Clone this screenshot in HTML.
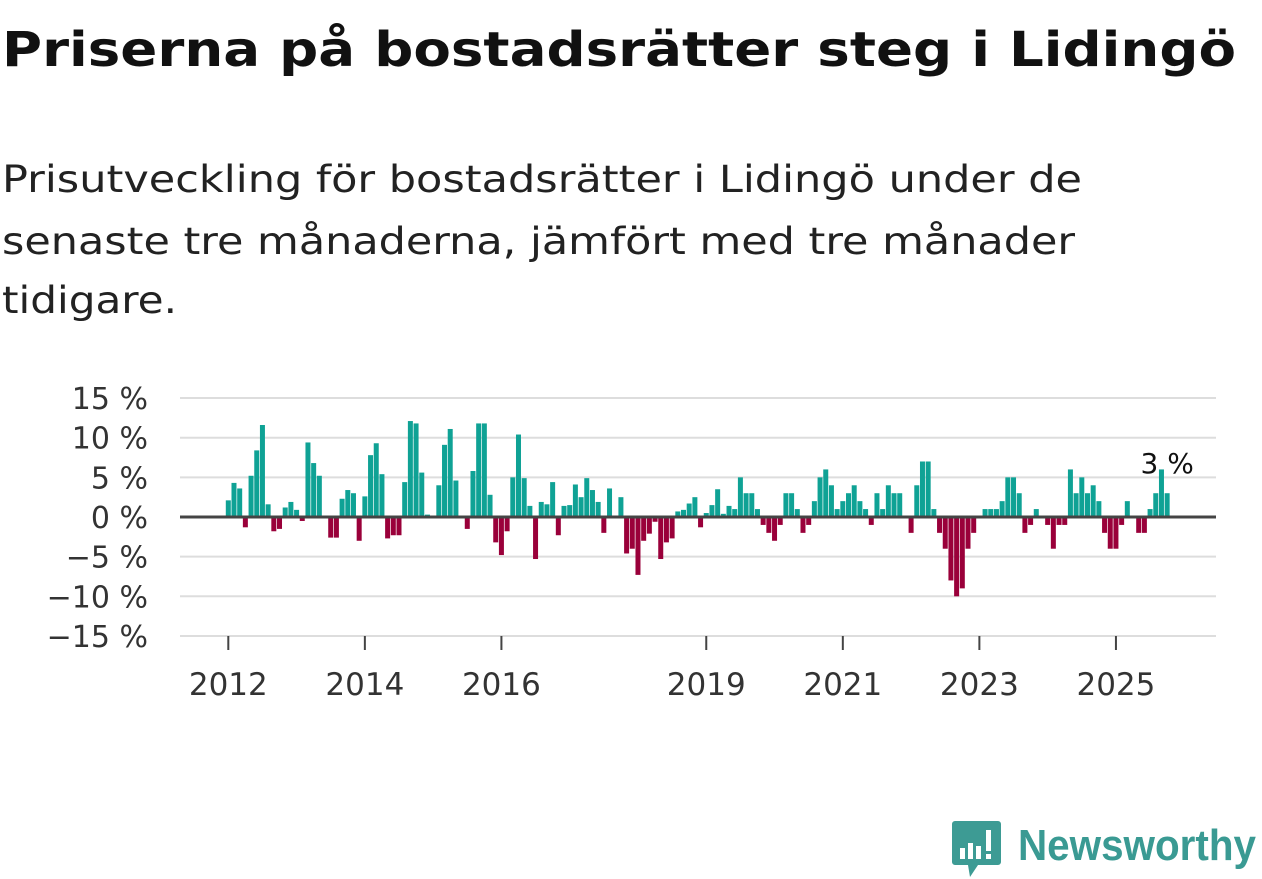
<!DOCTYPE html>
<html><head><meta charset="utf-8"><style>
html,body{margin:0;padding:0;background:#fff;width:1262px;height:879px;overflow:hidden}
svg{display:block}
</style></head><body>
<svg id="chart" width="1262" height="879" xmlns="http://www.w3.org/2000/svg">
<text x="2" y="66" font-family="DejaVu Sans, sans-serif" font-weight="bold" font-size="48" fill="#111" textLength="1234" lengthAdjust="spacingAndGlyphs">Priserna på bostadsrätter steg i Lidingö</text>
<g font-family="DejaVu Sans, sans-serif" font-size="37" fill="#222">
<text x="2" y="192" textLength="1080" lengthAdjust="spacingAndGlyphs">Prisutveckling för bostadsrätter i Lidingö under de</text>
<text x="2" y="254" textLength="1073" lengthAdjust="spacingAndGlyphs">senaste tre månaderna, jämfört med tre månader</text>
<text x="2" y="313" textLength="175" lengthAdjust="spacingAndGlyphs">tidigare.</text>
</g>
<g id="grid"></g>
<g id="yticks"></g>
<g id="xticks"></g>
<g id="bars"></g>
<line id="zero" stroke="#444" stroke-width="3"/>
<g id="annot"></g>
<g>
<path d="M955 821 h43 a3 3 0 0 1 3 3 v38 a3 3 0 0 1 -3 3 h-20 l-8 12 l-2 -12 h-13 a3 3 0 0 1 -3 -3 v-38 a3 3 0 0 1 3 -3z" fill="#3d9b94"/>
<rect x="960" y="848" width="5" height="11" fill="#fff"/>
<rect x="968" y="843" width="5" height="16" fill="#fff"/>
<rect x="976" y="846" width="5" height="13" fill="#fff"/>
<rect x="986" y="830" width="5" height="21" fill="#fff"/>
<rect x="986" y="854" width="5" height="5" fill="#fff"/>
<text x="1018" y="860" font-family="Liberation Sans, sans-serif" font-weight="bold" font-size="44" fill="#3a9a93" textLength="238" lengthAdjust="spacingAndGlyphs">Newsworthy</text>
</g>
</svg>
<script>
const values = [2.1,4.3,3.6,-1.3,5.2,8.4,11.6,1.6,-1.8,-1.5,1.2,1.9,
0.9,-0.5,9.4,6.8,5.2,0,-2.6,-2.6,2.3,3.4,3.0,-3.0,
2.6,7.8,9.3,5.4,-2.7,-2.3,-2.3,4.4,12.1,11.8,5.6,0.3,
0,4.0,9.1,11.1,4.6,0,-1.5,5.8,11.8,11.8,2.8,-3.2,
-4.8,-1.8,5.0,10.4,4.9,1.4,-5.3,1.9,1.6,4.4,-2.3,1.4,
1.5,4.1,2.5,4.9,3.4,1.9,-2.0,3.6,0,2.5,-4.6,-4.0,
-7.3,-3.0,-2.1,-0.6,-5.3,-3.2,-2.7,0.7,0.9,1.7,2.5,-1.3,
0.5,1.5,3.5,0.4,1.4,1.0,5.0,3.0,3.0,1.0,-1.0,-2.0,
-3.0,-1.0,3.0,3.0,1.0,-2.0,-1.0,2.0,5.0,6.0,4.0,1.0,
2.0,3.0,4.0,2.0,1.0,-1.0,3.0,1.0,4.0,3.0,3.0,0,
-2.0,4.0,7.0,7.0,1.0,-2.0,-4.0,-8.0,-10.0,-9.0,-4.0,-2.0,
0,1.0,1.0,1.0,2.0,5.0,5.0,3.0,-2.0,-1.0,1.0,0,
-1.0,-4.0,-1.0,-1.0,6.0,3.0,5.0,3.0,4.0,2.0,-2.0,-4.0,
-4.0,-1.0,2.0,0,-2.0,-2.0,1.0,3.0,6.0,3.0];
const startYear = 2012;
const yTicks = [15,10,5,0,-5,-10,-15];
const yTickLabels = ["15 %","10 %","5 %","0 %","\u22125 %","\u221210 %","\u221215 %"];
const xTickYears = [2012,2014,2016,2019,2021,2023,2025];
const lastLabel = "3 %";

const NS="http://www.w3.org/2000/svg";
const L=180,R=1216;
function y(v){return 517 - v*7.93;}
function x(i){return 228.3 + i*5.69;}
function xYear(yr){return x((yr-startYear)*12);}
function el(t,a,p){const e=document.createElementNS(NS,t);for(const k in a)e.setAttribute(k,a[k]);p.appendChild(e);return e;}
const grid=document.getElementById('grid'),yt=document.getElementById('yticks'),xt=document.getElementById('xticks'),bars=document.getElementById('bars');
yTicks.forEach((v,k)=>{
  const g=el('line',{x1:L,x2:R,y1:y(v),y2:y(v),stroke:'#ddd','stroke-width':2},grid);
  
  
  const t=el('text',{x:148,y:y(v)+11,'text-anchor':'end','font-family':'DejaVu Sans, sans-serif','font-size':30,fill:'#333'},yt);
  t.textContent=yTickLabels[k];
  
  
});
xTickYears.forEach(yr=>{
  const xx=xYear(yr);
  const tk=el('line',{x1:xx,x2:xx,y1:636,y2:650,stroke:'#444','stroke-width':2},xt);
  
  
  const t=el('text',{x:xx,y:695,'text-anchor':'middle','font-family':'DejaVu Sans, sans-serif','font-size':31,fill:'#333'},xt);
  t.textContent=yr;
  
  
});
values.forEach((v,i)=>{
  const top=Math.min(y(v),y(0)),h=Math.abs(y(v)-y(0));
  const r=el('rect',{x:x(i)-2.5,y:top,width:5,height:h,fill:v>=0?'#0fa295':'#9a003a'},bars);
  
  
});
const z=document.getElementById('zero');
z.setAttribute('x1',L);z.setAttribute('x2',R);z.setAttribute('y1',y(0));z.setAttribute('y2',y(0));
const li=values.length-1;
const an=document.getElementById('annot');
const lt=el('text',{x:x(li),y:y(Math.max(values[li],0))-20,'text-anchor':'middle','font-family':'DejaVu Sans, sans-serif','font-size':28,fill:'#111',stroke:'#fff','stroke-width':5,'paint-order':'stroke'},an);
lt.textContent=lastLabel;


</script>
</body></html>
